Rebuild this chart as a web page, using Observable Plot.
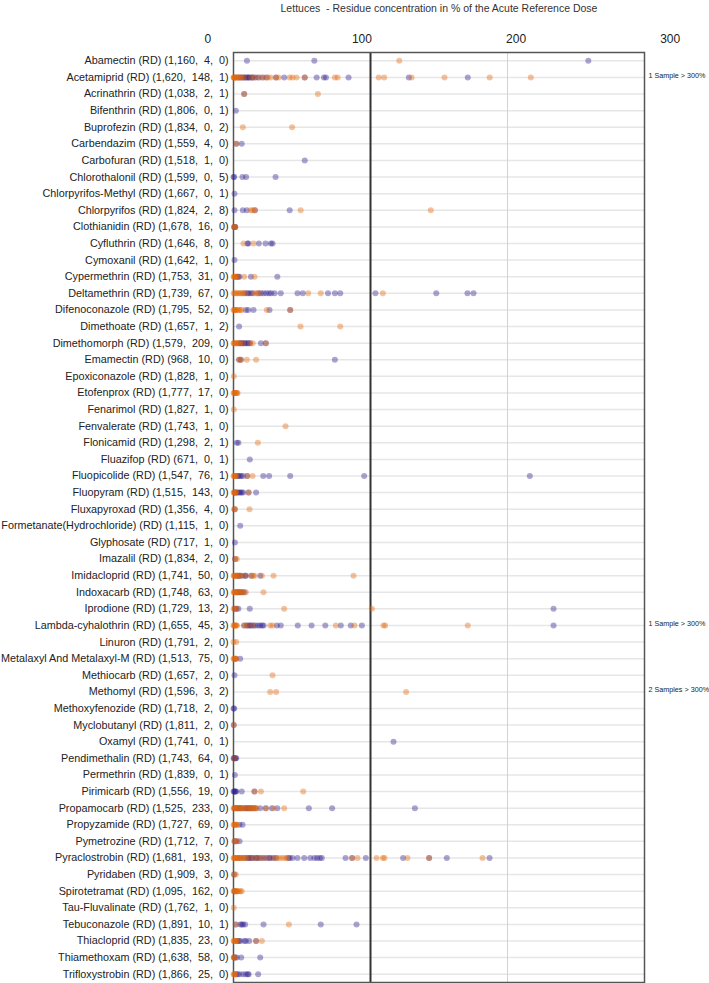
<!DOCTYPE html>
<html>
<head>
<meta charset="utf-8">
<script src="https://cdn.jsdelivr.net/npm/d3@7"></script>
<script src="https://cdn.jsdelivr.net/npm/@observablehq/plot@0.6"></script>
<style>
  html, body { margin: 0; padding: 0; background: #fff; }
</style>
</head>
<body>
<div id="chart"></div>
<script>
const title = "Lettuces  - Residue concentration in % of the Acute Reference Dose";
const xTicks = [0, 100, 200, 300];

const substances = [
  "Abamectin", "Acetamiprid", "Acrinathrin", "Bifenthrin", "Buprofezin", "Carbendazim",
  "Carbofuran", "Chlorothalonil", "Chlorpyrifos-Methyl", "Chlorpyrifos", "Clothianidin",
  "Cyfluthrin", "Cymoxanil", "Cypermethrin", "Deltamethrin", "Difenoconazole", "Dimethoate",
  "Dimethomorph", "Emamectin", "Epoxiconazole", "Etofenprox", "Fenarimol", "Fenvalerate",
  "Flonicamid", "Fluazifop", "Fluopicolide", "Fluopyram", "Fluxapyroxad",
  "Formetanate(Hydrochloride)", "Glyphosate", "Imazalil", "Imidacloprid", "Indoxacarb",
  "Iprodione", "Lambda-cyhalothrin", "Linuron", "Metalaxyl And Metalaxyl-M", "Methiocarb",
  "Methomyl", "Methoxyfenozide", "Myclobutanyl", "Oxamyl", "Pendimethalin", "Permethrin",
  "Pirimicarb", "Propamocarb", "Propyzamide", "Pymetrozine", "Pyraclostrobin", "Pyridaben",
  "Spirotetramat", "Tau-Fluvalinate", "Tebuconazole", "Thiacloprid", "Thiamethoxam",
  "Trifloxystrobin"
];

const counts = [
  [1160, 4, 0], [1620, 148, 1], [1038, 2, 1], [1806, 0, 1], [1834, 0, 2], [1559, 4, 0],
  [1518, 1, 0], [1599, 0, 5], [1667, 0, 1], [1824, 2, 8], [1678, 16, 0],
  [1646, 8, 0], [1642, 1, 0], [1753, 31, 0], [1739, 67, 0], [1795, 52, 0], [1657, 1, 2],
  [1579, 209, 0], [968, 10, 0], [1828, 1, 0], [1777, 17, 0], [1827, 1, 0], [1743, 1, 0],
  [1298, 2, 1], [671, 0, 1], [1547, 76, 1], [1515, 143, 0], [1356, 4, 0],
  [1115, 1, 0], [717, 1, 0], [1834, 2, 0], [1741, 50, 0], [1748, 63, 0],
  [1729, 13, 2], [1655, 45, 3], [1791, 2, 0], [1513, 75, 0], [1657, 2, 0],
  [1596, 3, 2], [1718, 2, 0], [1811, 2, 0], [1741, 0, 1], [1743, 64, 0], [1839, 0, 1],
  [1556, 19, 0], [1525, 233, 0], [1727, 69, 0], [1712, 7, 0], [1681, 193, 0], [1909, 3, 0],
  [1095, 162, 0], [1762, 1, 0], [1891, 10, 1], [1835, 23, 0], [1638, 58, 0],
  [1866, 25, 0]
];

// series 1 (orange)
const orangeValues = [
  [121],
  [0, 0.3, 0.6, 1, 1.4, 1.8, 2.3, 3, 4, 5, 6, 8, 13, 15, 19, 22, 25, 27, 31, 33, 41, 43, 46, 52, 74, 76, 106, 110, 130, 154, 187, 217],
  [7.8, 61.6],
  [],
  [6.8, 42.8],
  [2],
  [],
  [],
  [],
  [12.7, 13.9, 15.6, 49, 144],
  [0.3, 0.8, 1.2],
  [7.3, 14.6],
  [],
  [0, 0.5, 1, 1.5, 2, 3, 7.8, 15.3],
  [0, 1, 2, 3, 4, 5, 6, 7, 9, 15, 17, 19, 54.5, 63.7, 109],
  [0, 0.5, 1, 1.5, 2, 3, 4, 5, 6, 24.3, 41.4],
  [48.9, 77.9],
  [0, 0.5, 1, 1.5, 2, 3, 4, 5, 7, 12, 14, 23.6],
  [4.1, 5.4, 9.7, 16.5],
  [0.2],
  [0, 0.5, 1, 1.5, 2, 2.5, 3],
  [0.2],
  [38],
  [17.8],
  [],
  [0, 0.5, 1, 1.5, 2, 10, 13.9],
  [0, 0.5, 1, 1.5, 2, 11],
  [0.5, 1.2, 11.7],
  [],
  [],
  [1.2, 2.4],
  [0, 0.5, 1, 1.5, 2, 3, 4, 5, 8, 13, 14.5, 15.3, 20.7, 29.2, 87.6],
  [0, 0.5, 1, 1.5, 2, 3, 4, 5, 6, 7, 9, 21.9],
  [0, 1, 2.5, 37, 101],
  [0, 0.5, 1, 1.5, 2, 2.5, 7.8, 9.7, 14, 26.8, 28.5, 74.7, 88.3, 109.5, 110.7, 171],
  [0, 2],
  [0, 0.5, 1, 1.5, 2],
  [28.5],
  [26.8, 31.1, 126],
  [],
  [0.2],
  [],
  [0.5],
  [],
  [15.3, 20, 50.9],
  [0, 0.5, 1, 2, 3, 4, 5, 6, 7, 8, 10, 11, 12, 13, 14, 15, 16, 17, 23.6, 29.2, 37],
  [0, 0.5, 1, 1.5, 2, 2.5],
  [0.5, 1.5, 2.4],
  [0, 0.5, 1, 1.5, 2, 3, 4, 5, 6, 7, 8, 9, 12, 15, 18, 21, 25, 30, 32, 34, 36, 38, 39, 86.6, 90.5, 104.4, 109, 110.2, 127, 142.8, 181.8],
  [0.2, 1.7],
  [0, 0.5, 1, 1.5, 2, 2.5, 3, 4, 5, 6],
  [0.2],
  [1.7, 40.4],
  [0, 0.5, 1, 1.5, 2, 3, 16.5, 20.7],
  [0, 0.5, 1],
  [0, 0.5, 1, 1.5]
];

// series 2 (blue)
const blueValues = [
  [9.8, 59, 259],
  [3.5, 5, 6.5, 7.5, 8.5, 9.5, 10.5, 11, 12, 13.5, 14, 16, 18, 21, 24, 31, 37, 52, 60.7, 66, 67.5, 84, 128, 171],
  [7.8],
  [1.7],
  [],
  [2, 6],
  [52],
  [0, 0.5, 6.5, 9.2, 30.7],
  [0.7],
  [0.7, 6.8, 9.7, 15.6, 41],
  [0.5, 1, 1.3],
  [10.2, 10.8, 18.5, 23.4, 27.3, 28.5],
  [0.7],
  [2.5, 3.5, 4.4, 12.7, 32],
  [8, 10, 11, 12.5, 14, 18, 20, 22, 24, 26, 27.5, 30, 34.5, 46.7, 50.6, 69, 74, 77.9, 103.6, 148, 170.8, 175.2],
  [9, 10.7, 14.6, 26.3, 41.4],
  [4.1],
  [4, 5, 6, 7, 8, 9, 10, 11, 12, 20, 23.6],
  [4.1, 5.4, 74],
  [],
  [],
  [],
  [],
  [2.4, 3.6],
  [11.9],
  [2.5, 3.5, 4.5, 5.5, 7, 10, 21.7, 26, 41.4, 95.4, 216.3],
  [1, 2, 3, 4, 5, 6, 7, 11, 16.5],
  [0.8],
  [4.9],
  [1],
  [1.2],
  [2.5, 3.5, 4.5, 6, 8.5, 9, 13, 19.5],
  [2, 3, 4, 5, 6.5, 8],
  [1, 2, 3.6, 11.9, 233.6],
  [7.8, 9.7, 11, 12, 13, 14.5, 16, 18, 19.5, 21, 22, 31.6, 34.5, 46.9, 57, 67, 78.3, 85.6, 93.7, 233.6],
  [],
  [1.5, 4.9],
  [0.7],
  [],
  [0, 0.5],
  [0.2],
  [116.8],
  [0, 0.5, 1, 1.5, 2],
  [1],
  [0, 0.5, 1, 1.5, 2, 6, 15.3],
  [1, 2, 3, 4, 5, 6, 8, 9, 10, 11, 12, 13, 14.5, 16, 19.5, 23.6, 28, 32, 55, 72, 132.4],
  [4.4, 6.6],
  [1, 2, 4.4],
  [3, 5, 8, 10, 11, 12, 13, 14, 16, 17, 18, 20, 22, 24, 26, 27, 29, 31, 40, 41, 43, 46.7, 51.6, 56, 59, 61, 63, 64.5, 81.8, 86.6, 96.6, 123.8, 142.8, 155.7, 186.9],
  [0.5],
  [1],
  [],
  [1.7, 5, 6, 7, 8.5, 21.9, 63.7, 89.8],
  [3, 4, 5, 8, 9, 11.5, 16.5],
  [0.5, 1, 2.4, 5.6, 19.5],
  [2, 3, 4.5, 7, 9, 10.5, 11, 18]
];

const notes = [
  { substance: "Acetamiprid", text: "1 Sample > 300%" },
  { substance: "Lambda-cyhalothrin", text: "1 Sample > 300%" },
  { substance: "Methomyl", text: "2 Samples > 300%" }
];

// ---- build table ----
const fmt = d3.format(",");
const gap = ",\u00a0 ";
const labels = substances.map((s, i) =>
  `${s} (RD) (${counts[i].map(fmt).join(gap)})`);
const labelOf = new Map(substances.map((s, i) => [s, labels[i]]));

const points = [];
substances.forEach((s, i) => {
  blueValues[i].forEach(v => points.push({ label: labels[i], value: v, series: "S2" }));
});
substances.forEach((s, i) => {
  orangeValues[i].forEach(v => points.push({ label: labels[i], value: v, series: "S1" }));
});
const noteRows = notes.map(n => ({ label: labelOf.get(n.substance), text: n.text }));

const labelSpread = 1.125; // tick labels are spread wider than gridlines in the original
const chart = Plot.plot({
  width: 709,
  height: 983,
  marginLeft: 233,
  marginRight: 65,
  marginTop: 52,
  marginBottom: 1,
  style: { fontFamily: "'Liberation Sans', Arial, sans-serif", background: "#fff", color: "#222" },
  x: { domain: [0, 300], axis: null },
  y: { domain: labels, axis: null, padding: 0.5 },
  color: { domain: ["S2", "S1"], range: ["#2d1e8f", "#e3690b"] },
  marks: [
    Plot.ruleY(labels, { stroke: "#e6e6e6", strokeWidth: 1.5 }),
    Plot.ruleX([200], { stroke: "#d2d2d2", strokeWidth: 1 }),
    Plot.ruleX([100], { stroke: "#333", strokeWidth: 2 }),
    Plot.frame({ stroke: "#555", strokeWidth: 1.5 }),
    Plot.dot(points, { x: "value", y: "label", r: 3, fill: "series", fillOpacity: 0.4, stroke: "none" }),
    Plot.axisY({ tickSize: 0, tickPadding: 5, fontSize: 10.8, fill: "#222", label: null }),
    Plot.text(xTicks, {
      x: d => 150 + (d - 150) * labelSpread,
      text: d => String(d),
      frameAnchor: "top", lineAnchor: "middle", dy: -13, fontSize: 12, fill: "#222"
    }),
    Plot.text([title], { frameAnchor: "top", lineAnchor: "middle", dy: -44, fontSize: 10.5, fill: "#333" }),
    Plot.text(noteRows, {
      x: () => 300, y: "label", text: "text", dx: 4, dy: -2,
      textAnchor: "start", fontSize: 7.2, fill: "#222"
    })
  ]
});
document.getElementById("chart").append(chart);
</script>
</body>
</html>
